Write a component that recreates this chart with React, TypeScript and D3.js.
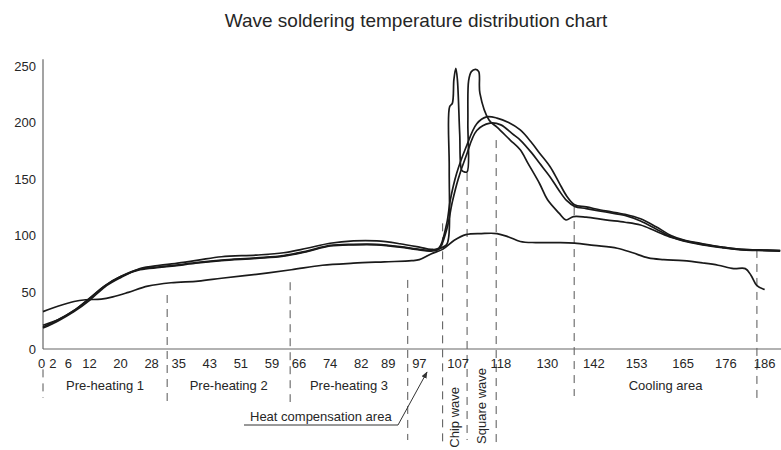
import * as d3 from "d3";

const W = 781;
const H = 450;

const title = "Wave soldering temperature distribution chart";
const xTicks = [0, 2, 6, 12, 20, 28, 35, 43, 51, 59, 66, 74, 82, 89, 97, 107, 118, 130, 142, 153, 165, 176, 186];
const yTicks = [0, 50, 100, 150, 200, 250];

// [time, temperature]
const probeLow: [number, number][] = [
  [0, 33], [4, 38], [8, 42], [11, 43.5], [15, 44], [18, 46], [22, 50], [27, 55.5], [33, 58.5],
  [40, 60], [46, 62.5], [55, 66], [64, 70], [72, 74], [80, 75.8], [88, 77], [95, 78], [97, 79],
  [100, 84], [103, 88], [106, 96], [109, 101], [113, 102], [117, 102], [120, 99], [123, 95],
  [127, 94], [133, 94], [137, 93.5], [142, 91.5], [148, 89], [152, 85], [156, 80.5], [160, 79],
  [165, 78], [170, 76], [174, 74], [178, 71], [181, 71], [182.5, 65], [184, 56], [186, 52.5],
];

const probeUpper: [number, number][] = [
  [0, 18.5], [4, 25], [8, 33], [12, 43], [16, 55], [20, 63], [25, 71], [30, 74], [34, 75.5],
  [40, 78.5], [46, 81.5], [55, 83], [62, 85], [68, 89], [74, 93.4], [80, 95.5], [86, 95.5],
  [92, 93], [97, 90], [100, 88], [102, 89], [104, 110], [105, 132], [106.6, 155], [109, 178],
  [111.8, 199], [114.3, 205], [117, 204], [120, 200], [123, 193.5], [126, 182], [128, 173],
  [130.7, 161], [133, 147], [135, 135], [137, 127.5], [140, 125.5], [145, 122], [150, 119],
  [154, 115], [158, 108], [162, 100], [165, 96.5], [170, 93], [175, 90], [180, 88], [184, 87.5],
  [190, 87],
];

const probeMid: [number, number][] = [
  [0, 21], [4, 26], [8, 34], [12, 45], [16, 56], [20, 64], [25, 70], [30, 72], [34, 73.5],
  [40, 76], [46, 78], [55, 80], [62, 82], [68, 86], [74, 91], [80, 92], [86, 92], [92, 90],
  [97, 87.5], [100, 86.5], [102, 88], [104, 105], [105.5, 130], [107, 150], [109, 170],
  [111.8, 193], [115.2, 199.5], [118, 198], [121, 190], [123, 184.6], [126, 173], [128, 164],
  [130.7, 152], [133, 140], [135, 131], [137, 126], [140, 124], [145, 121], [150, 118],
  [154, 113], [158, 106], [162, 99], [165, 95.5], [170, 92], [175, 89.5], [180, 87.5],
  [184, 87], [190, 86.5],
];

const probeSpike: [number, number][] = [
  [0, 19.5], [4, 26], [8, 34], [12, 44.5], [16, 56], [20, 64], [25, 70.5], [30, 72.5],
  [34, 74], [40, 76.5], [46, 78.5], [55, 80.5], [62, 82.5], [68, 86.5], [74, 91.5], [80, 92.5],
  [86, 92.5], [92, 90.5], [97, 88], [100, 87], [102, 88.5], [104, 92], [104.6, 100],
  [104.7, 160], [104.8, 214], [105.5, 217], [105.9, 238], [106.4, 248], [106.8, 238],
  [107.4, 190], [107.9, 158], [108.5, 156.5], [109.3, 156.5], [109.5, 200], [109.7, 237],
  [110.4, 245], [111.5, 247], [112.3, 245], [112.6, 226], [115, 202], [117, 196],
  [120.4, 184.6], [123, 176], [125, 164], [128, 146], [130, 132], [133, 120], [134.8, 114],
  [136.7, 117], [140, 116.5], [145, 114], [150, 112], [154, 109.5], [158, 104], [162, 98.5],
  [165, 96], [170, 92.5], [175, 90], [180, 88], [184, 87.5], [190, 87],
];

const series = [probeLow, probeUpper, probeMid, probeSpike];

// zone boundaries (time) and where each dashed line starts (temperature)
const boundaryTimes = [0, 32, 63.7, 94, 103, 109.3, 116.8, 136.9, 184];
const boundaryTopTemps = [-18, 47.7, 59, 61, 111, 155.5, 184.6, 125.4, 87.5];

const zones = [
  { name: "Pre-heating 1", from: 0, to: 32 },
  { name: "Pre-heating 2", from: 32, to: 63.7 },
  { name: "Pre-heating 3", from: 63.7, to: 94 },
  { name: "Cooling area", from: 136.9, to: 184 },
];
const waveZones = [
  { name: "Chip wave", from: 103, to: 109.3 },
  { name: "Square wave", from: 109.3, to: 116.8 },
];

export default function App() {
  const x = d3.scaleLinear().domain([0, 190]).range([43, 43 + 190 * 3.88]);
  const y = d3.scaleLinear().domain([0, 250]).range([349, 66]);

  const line = d3
    .line<[number, number]>()
    .x((d) => x(d[0]))
    .y((d) => y(d[1]))
    .curve(d3.curveCatmullRom.alpha(0.5));

  // dashed line bottoms, in pixels below the chart
  const dashBottoms = [398, 402, 402, 440, 444, 440, 444, 396, 400];
  const font = "Arial, 'Liberation Sans', Helvetica, sans-serif";
  const textColor = "#262626";

  const arrowTip: [number, number] = [427, 372];

  return (
    <svg
      width={W}
      height={H}
      style={{ position: "absolute", left: 0, top: 0, background: "#fff" }}
      fontFamily={font}
    >
      <defs>
        <marker id="arrow" viewBox="0 0 10 10" refX="9" refY="5" markerWidth="7" markerHeight="7" orient="auto">
          <path d="M0,1 L10,5 L0,9 z" fill="#333" />
        </marker>
      </defs>

      <text x={416} y={27} textAnchor="middle" fontSize={19} fill={textColor}>
        {title}
      </text>

      {/* dashed zone separators */}
      {boundaryTimes.map((t, i) => (
        <line
          key={"b" + i}
          x1={x(t)}
          x2={x(t)}
          y1={y(boundaryTopTemps[i])}
          y2={dashBottoms[i]}
          stroke="#555"
          strokeWidth={1}
          strokeDasharray="8 6"
        />
      ))}

      {/* axes */}
      <line x1={x(0)} x2={x(0)} y1={y(256)} y2={y(0)} stroke="#666" strokeWidth={1.2} />
      <line x1={x(0)} x2={W} y1={y(0)} y2={y(0)} stroke="#666" strokeWidth={1.2} />

      {yTicks.map((v) => (
        <text key={"y" + v} x={36} y={y(v)} dy="0.35em" textAnchor="end" fontSize={13} fill={textColor}>
          {v}
        </text>
      ))}
      {xTicks.map((v) => (
        <text
          key={"x" + v}
          x={x(v) + (v === 0 ? -1.5 : v < 10 ? 2 : 0)}
          y={363}
          dy="0.35em"
          textAnchor="middle"
          fontSize={13}
          fill={textColor}
        >
          {v}
        </text>
      ))}

      {/* temperature curves */}
      {series.map((s, i) => (
        <path key={"s" + i} d={line(s) ?? ""} fill="none" stroke="#1a1a1a" strokeWidth={1.7} strokeLinejoin="round" />
      ))}

      {/* zone names */}
      {zones.map((z) => (
        <text key={z.name} x={x((z.from + z.to) / 2)} y={385} dy="0.35em" textAnchor="middle" fontSize={13} fill={textColor}>
          {z.name}
        </text>
      ))}
      {waveZones.map((z) => (
        <text
          key={z.name}
          transform={`translate(${x((z.from + z.to) / 2)},${z.name === "Chip wave" ? 387 : 368}) rotate(-90)`}
          dy="0.35em"
          textAnchor="end"
          fontSize={13}
          fill={textColor}
        >
          {z.name}
        </text>
      ))}

      {/* heat compensation callout */}
      <text x={250} y={416} dy="0.35em" fontSize={13} fill={textColor}>
        Heat compensation area
      </text>
      <polyline
        points={`244,425 398,425 ${arrowTip[0]},${arrowTip[1]}`}
        fill="none"
        stroke="#333"
        strokeWidth={1}
        markerEnd="url(#arrow)"
      />
    </svg>
  );
}
